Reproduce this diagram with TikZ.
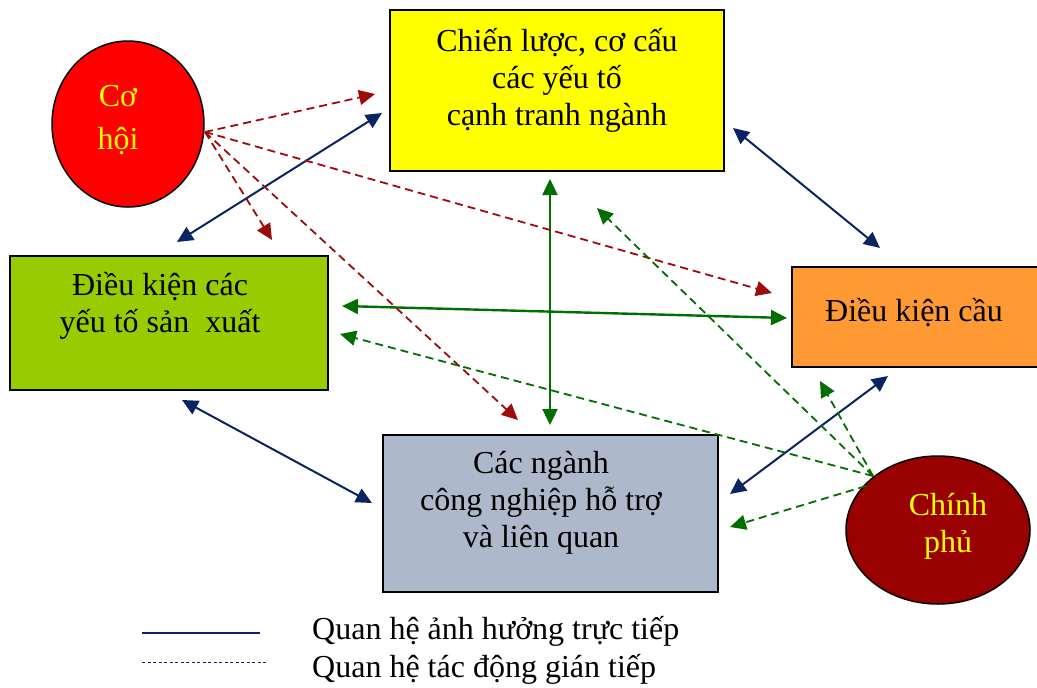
\documentclass[tikz,border=0pt]{standalone}
\usepackage{fontspec}
\setmainfont{Liberation Serif}
\usetikzlibrary{arrows.meta,shapes.geometric}
\definecolor{boxyellow}{HTML}{FFFF00}
\definecolor{boxgreen}{HTML}{99CC00}
\definecolor{boxorange}{HTML}{FF9933}
\definecolor{boxgray}{HTML}{ADB9CA}
\definecolor{ovalred}{HTML}{FF0000}
\definecolor{ovaldark}{HTML}{990000}
\definecolor{navyline}{HTML}{0A2463}
\definecolor{greenline}{HTML}{006E00}
\definecolor{redline}{HTML}{9E0B0B}
\begin{document}
\begin{tikzpicture}[x=1pt,y=-1pt,
  box/.style={draw=black,line width=1.5pt,inner sep=0pt},
  oval/.style={ellipse,draw=black,line width=1.5pt,inner sep=0pt},
  label/.style={align=center,inner sep=0pt,font=\fontsize{32}{37}\selectfont},
  ovallabel/.style={label,text=boxyellow},
  direct/.style={draw=navyline,line width=2pt,{Triangle[length=16pt,width=15pt]}-{Triangle[length=16pt,width=15pt]}},
  direct2/.style={draw=greenline,line width=2.4pt,{Triangle[length=16pt,width=15pt]}-{Triangle[length=16pt,width=15pt]}},
  indirectred/.style={draw=redline,line width=1.8pt,dash pattern=on 8pt off 5pt,-{Triangle[length=16pt,width=15pt]}},
  indirectgreen/.style={draw=greenline,line width=1.8pt,dash pattern=on 8pt off 5pt,-{Triangle[length=16pt,width=15pt]}}]
\useasboundingbox (0,0) rectangle (1037,688);

% boxes
\node[box,fill=boxyellow,minimum width=334pt,minimum height=161pt] (strategy) at (557,90.5) {};
\node[label] (strategyt) at (557,80) {Chiến lược, cơ cấu\\các yếu tố\\cạnh tranh ngành};

\node[box,fill=boxgreen,minimum width=318pt,minimum height=134pt] (factor) at (169,323) {};
\node[label] (factort) at (160,306) {Điều kiện các\\yếu tố sản\ \ xuất};

\node[box,fill=boxorange,minimum width=253pt,minimum height=100pt] (demand) at (918.5,317) {};
\node[label] (demandt) at (914,313) {Điều kiện cầu};

\node[box,fill=boxgray,minimum width=335pt,minimum height=157pt] (related) at (550.5,513.5) {};
\node[label] (relatedt) at (541,503) {Các ngành\\công nghiệp hỗ trợ\\và liên quan};

% ovals
\node[oval,fill=ovalred,minimum width=152pt,minimum height=166pt] (chance) at (128,124) {};
\node[ovallabel,font=\fontsize{32}{43}\selectfont] (chancet) at (118,120) {Cơ\\hội};

\node[oval,fill=ovaldark,minimum width=184pt,minimum height=148pt] (gov) at (938,530) {};
\node[ovallabel,font=\fontsize{32}{37}\selectfont] (govt) at (948,526) {Chính\\phủ};

% connector ends
\coordinate (cA) at (205,132);
\coordinate (r1) at (375,94);
\coordinate (r2) at (272,240);
\coordinate (r3) at (518,420);
\coordinate (r4) at (772,293);

\coordinate (gA) at (873,476);
\coordinate (gB) at (866,486);
\coordinate (g1) at (597,208);
\coordinate (g2) at (340,334);
\coordinate (g3) at (820,381);
\coordinate (g4) at (730,527);

\coordinate (n1a) at (177,242);
\coordinate (n1b) at (382,113);
\coordinate (n2a) at (733,128);
\coordinate (n2b) at (880,248);
\coordinate (n3a) at (182,400);
\coordinate (n3b) at (372,503);
\coordinate (n4a) at (730,494);
\coordinate (n4b) at (888,376);
\coordinate (s1a) at (550,179);
\coordinate (s1b) at (550,425);
\coordinate (s2a) at (342,306);
\coordinate (s2b) at (787,318);

% direct relations
\draw[direct] (n1a) -- (n1b);
\draw[direct] (n2a) -- (n2b);
\draw[direct] (n3a) -- (n3b);
\draw[direct] (n4a) -- (n4b);
\draw[direct2] (s1a) -- (s1b);
\draw[direct2] (s2a) -- (s2b);

% indirect relations
\draw[indirectred] (cA) -- (r1);
\draw[indirectred] (cA) -- (r2);
\draw[indirectred] (cA) -- (r3);
\draw[indirectred] (cA) -- (r4);
\draw[indirectgreen] (gA) -- (g1);
\draw[indirectgreen] (gA) -- (g2);
\draw[indirectgreen] (gA) -- (g3);
\draw[indirectgreen] (gB) -- (g4);

% legend
\coordinate (l1a) at (142,633);
\coordinate (l1b) at (260,633);
\coordinate (l2a) at (142,662);
\coordinate (l2b) at (268,662);
\draw[navyline,line width=1.3pt] (l1a) -- (l1b);
\draw[navyline,line width=1pt,dash pattern=on 3pt off 2.5pt] (l2a) -- (l2b);
\node[label,anchor=base west] (leg1) at (312,639) {Quan hệ ảnh hưởng trực tiếp};
\node[label,anchor=base west] (leg2) at (312,677) {Quan hệ tác động gián tiếp};
\end{tikzpicture}
\end{document}
